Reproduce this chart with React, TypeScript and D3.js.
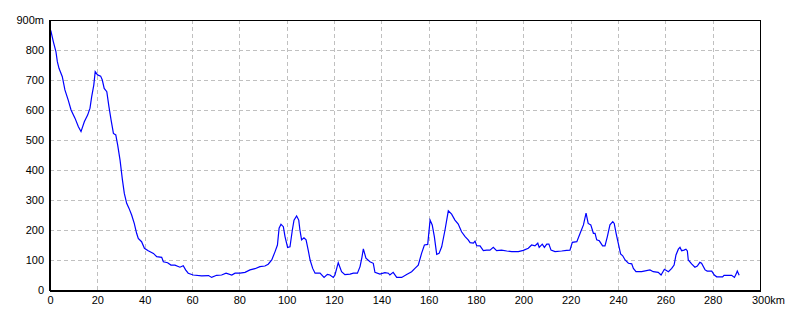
import React from "react";
import * as d3 from "d3";

const distanceKm: number[] = [
  0, 0.4, 1.4, 2.5, 3.1, 3.8, 5.2, 6.3, 7.7, 8.9, 10.6, 12, 13.1, 14.5, 15.9, 16.9, 17.6, 18.5, 19.1,
  20.1, 21.4, 22.1, 22.9, 24, 24.9, 25.8, 26.8, 27.8, 28.6, 29.6, 30.6, 31.4, 32.4, 33.4, 34.5, 35.6,
  36.6, 37.3, 38.7, 39.9, 41.5, 43.7, 45.1, 47.2, 47.9, 49.7, 51.1, 52.8, 54.9, 56.3, 57.3, 58.4,
  60.5, 64.1, 67, 68.3, 70.4, 72.5, 74.4, 76.8, 78.2, 80.3, 82.4, 84.5, 86.6, 88.7, 90.8, 92.2, 93.7,
  95.1, 96.1, 96.8, 97.6, 98.6, 99.3, 100.4, 101.4, 102.4, 103.1, 104.2, 105.1, 105.6, 106.3, 107.3,
  108.2, 109.1, 109.9, 111, 112, 114.1, 115.8, 117.2, 118.3, 119.7, 120.4, 121.8, 123.2, 124.6,
  126.8, 128.2, 129.9, 131, 131.8, 132.4, 133.5, 135.2, 136.6, 137.3, 139.4, 141.5, 143, 143.6, 145,
  146.5, 148.6, 150.7, 152.8, 154.2, 155.6, 157, 158.2, 159.6, 160.6, 161.5, 162.4, 163.4, 164.4,
  165.5, 166.9, 168.3, 169.7, 171.1, 172.5, 173.9, 175.4, 176.7, 177.5, 178.9, 179.6, 180.3, 181.7,
  183.1, 184.5, 185.9, 187.3, 188.7, 190.8, 193, 195.1, 197.9, 200, 202.1, 203.5, 204.9, 206.1,
  206.7, 208, 208.9, 209.9, 210.8, 211.7, 213.4, 216.2, 218.3, 219.7, 220.7, 222.6, 224, 225.4,
  226.5, 227.4, 228.5, 229.6, 230.3, 231, 232.1, 233.5, 234.5, 235.5, 236.6, 237.8, 238.4, 239.2,
  240.1, 241.1, 242, 243, 244.4, 245.8, 246.5, 247.6, 250, 253.5, 254.9, 257, 258.2, 259.6, 261.3,
  262.7, 263.7, 264.5, 265.5, 266.2, 266.9, 267.9, 268.7, 269.3, 269.7, 271.1, 272.5, 273.5, 274.6,
  275.3, 276.8, 277.7, 279.6, 280.7, 281.7, 284.2, 284.8, 288, 289.2, 289.9, 290.4, 291.2,
];

const elevationM: number[] = [
  870, 863, 828, 795, 761, 739, 711, 667, 633, 600, 572, 544, 528, 561, 583, 606, 644, 683, 728,
  717, 713, 700, 672, 661, 611, 567, 522, 517, 483, 433, 367, 322, 289, 272, 250, 222,
  189, 172, 161, 139, 131, 122, 111, 109, 94, 91, 83, 83, 76, 81, 67, 56,
  50, 47, 48, 42, 49, 50, 56, 50, 56, 56, 59, 67, 71, 78, 80, 86, 100,
  128, 150, 206, 219, 211, 178, 142, 144, 200, 233, 247, 233, 200, 167, 174,
  167, 133, 100, 72, 56, 56, 42, 52, 50, 42, 50, 91, 61, 51,
  53, 56, 56, 78, 109, 137, 106, 94, 89, 59, 53, 58, 56, 50, 59,
  42, 42, 52, 61, 72, 83, 122, 150, 152, 233, 217, 178, 119, 122,
  144, 200, 264, 253, 233, 220, 194, 178, 167, 158, 156, 163, 148, 147,
  131, 133, 133, 142, 131, 133, 130, 128, 128, 132, 139, 150, 147, 156,
  142, 153, 142, 153, 153, 133, 128, 130, 132, 133, 159, 161, 189, 217,
  256, 222, 217, 189, 189, 167, 164, 147, 147, 178, 217, 228, 222, 189,
  156, 120, 114, 100, 89, 87, 72, 61, 61, 67, 61, 59, 50, 69, 61,
  72, 83, 117, 136, 142, 131, 133, 136, 130, 100, 87, 76, 80, 92,
  89, 67, 63, 63, 50, 44, 44, 49, 49, 42, 53, 63, 49,
];

const xTicks: number[] = [0, 20, 40, 60, 80, 100, 120, 140, 160, 180, 200, 220, 240, 260, 280];
const yTicks: number[] = [0, 100, 200, 300, 400, 500, 600, 700, 800];
const xEndLabel = "300km";
const yEndLabel = "900m";

export default function App() {
  const W = 800;
  const H = 320;
  const left = 50;
  const right = 760;
  const top = 20;
  const bottom = 290;

  const x = d3.scaleLinear().domain([0, 300]).range([left, right]);
  const y = d3.scaleLinear().domain([0, 900]).range([bottom, top]);

  const pts: [number, number][] = distanceKm.map((d, i) => [d, elevationM[i]]);
  const line = d3
    .line<[number, number]>()
    .x((d) => x(d[0]))
    .y((d) => y(d[1]));

  const font = "'Liberation Sans', Arial, sans-serif";
  const grid = "#c0c0c0";

  return (
    <svg
      width={W}
      height={H}
      style={{ position: "absolute", left: 0, top: 0, background: "#fff" }}
      fontFamily={font}
      fontSize={11}
    >
      <rect x={0} y={0} width={W} height={H} fill="#fff" />
      {xTicks
        .filter((t) => t > 0)
        .map((t) => (
          <line
            key={"vx" + t}
            x1={x(t) + 0.5}
            x2={x(t) + 0.5}
            y1={top}
            y2={bottom}
            stroke={grid}
            strokeDasharray="4,3"
            shapeRendering="crispEdges"
          />
        ))}
      {yTicks
        .filter((t) => t > 0)
        .concat([])
        .map((t) => (
          <line
            key={"hy" + t}
            x1={left}
            x2={right}
            y1={Math.round(y(t)) + 0.5}
            y2={Math.round(y(t)) + 0.5}
            stroke={grid}
            strokeDasharray="4,3"
            shapeRendering="crispEdges"
          />
        ))}
      <path d={line(pts) || ""} fill="none" stroke="#0000ff" strokeWidth={1.2} />
      <rect
        x={left + 0.5}
        y={top + 0.5}
        width={right - left}
        height={bottom - top}
        fill="none"
        stroke="#000"
        strokeWidth={1}
        shapeRendering="crispEdges"
      />
      <line x1={left} x2={right + 1} y1={bottom + 1} y2={bottom + 1} stroke="#000" strokeWidth={1} shapeRendering="crispEdges" />
      <line x1={left - 0.5} x2={left - 0.5} y1={top} y2={bottom + 1} stroke="#000" strokeWidth={1} shapeRendering="crispEdges" />
      {yTicks.map((t) => (
        <text key={"yl" + t} x={44} y={y(t) + 4} textAnchor="end" fill="#000">
          {t}
        </text>
      ))}
      <text x={44} y={y(900) + 4} textAnchor="end" fill="#000">
        {yEndLabel}
      </text>
      {xTicks.map((t) => (
        <text key={"xl" + t} x={x(t) + 0.5} y={304} textAnchor="middle" fill="#000">
          {t}
        </text>
      ))}
      <text x={x(300) - 8} y={304} textAnchor="start" fill="#000">
        {xEndLabel}
      </text>
    </svg>
  );
}
